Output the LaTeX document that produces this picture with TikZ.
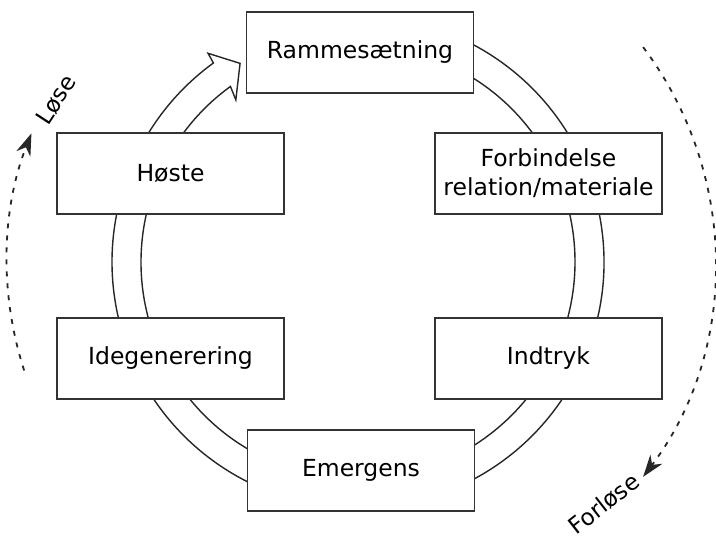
\documentclass[tikz,border=0pt]{standalone}
\usepackage{fontspec}
\setmainfont{DejaVu Sans}
\usetikzlibrary{arrows.meta}
\begin{document}
\begin{tikzpicture}[x=1pt,y=1pt,
  box/.style={draw=black!80, line width=1.6pt, fill=white, minimum width=227pt, minimum height=81pt, inner sep=0pt, align=center, font=\fontsize{23.5}{29}\selectfont},
  ring/.style={draw=black!85, line width=1.4pt, fill=white},
  dashedarc/.style={draw=black!85, line width=1.8pt, dash pattern=on 5pt off 7pt, -{Stealth[length=22pt,width=15pt,inset=7pt]}},
  lbl/.style={font=\fontsize{23}{27}\selectfont, inner sep=0pt}]
\useasboundingbox (0,0) rectangle (716,541);
\coordinate (c) at (358,279);
% ring with arrow head
\draw[ring] ([shift={(100:246)}]c) arc[start angle=100,end angle=-234,radius=246]
  -- ([shift={(125.7:257)}]c) -- ([shift={(120.7:231)}]c) -- ([shift={(127:203)}]c)
  -- ([shift={(126:217)}]c) arc[start angle=126,end angle=460,radius=217] -- cycle;
% boxes
\node[box] (ramme) at (360,488.5) {Rammesætning};
\node[box] (hoste) at (170.5,367.5) {Høste};
\node[box] (forb) at (548.5,367.5) {Forbindelse\\relation/materiale};
\node[box] (ide) at (170.5,182.5) {Idegenerering};
\node[box] (indtryk) at (548.5,182.5) {Indtryk};
\node[box] (emerg) at (361,70.5) {Emergens};
% dashed arcs
\coordinate (lstart) at ([shift={(198:351)}]c);
\coordinate (rstart) at ([shift={(37:357)}]c);
\draw[dashedarc] (lstart) arc[start angle=198,end angle=158.5,radius=351];
\draw[dashedarc] (rstart) arc[start angle=37,end angle=-37,radius=357];
% labels
\node[lbl, rotate=57] (lose) at (56,441) {Løse};
\node[lbl, rotate=38] (forlose) at (604,37) {Forløse};
\end{tikzpicture}
\end{document}
